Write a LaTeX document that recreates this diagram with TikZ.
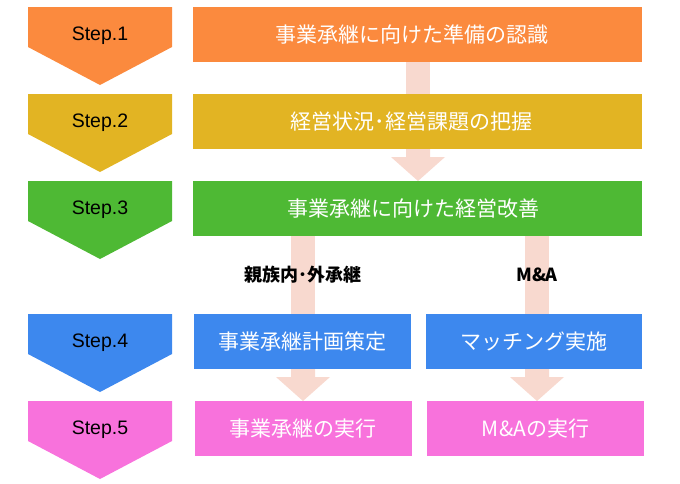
\documentclass[tikz,border=0pt]{standalone}
\usepackage{fontspec}
\setmainfont{Liberation Sans}
\newfontfamily\jp{Noto Sans CJK JP}
\usetikzlibrary{calc}
\definecolor{corange}{HTML}{FB8A3E}
\definecolor{cyellow}{HTML}{E2B423}
\definecolor{cgreen}{HTML}{4EB934}
\definecolor{cblue}{HTML}{3D88EE}
\definecolor{cpink}{HTML}{F872DC}
\definecolor{carrow}{HTML}{F8D9CF}
\tikzset{
  box/.style={rectangle, inner sep=0pt, minimum height=55pt},
  boxtext/.style={inner sep=0pt, text=white, font=\jp\fontsize{21}{23}\selectfont},
  stepnum/.style={inner sep=0pt, text=black, font=\fontsize{19.5}{21}\selectfont},
  lbl/.style={inner sep=0pt, text=black, font=\jp\bfseries\fontsize{18}{20}\selectfont},
  blockarrow/.style={fill=carrow}
}
\newcommand{\chevron}[2]{% #1 colour, #2 top y
  \fill[#1] (28,#2) -- (172,#2) -- (172,#2+40) -- (100,#2+78) -- (28,#2+40) -- cycle;}
\begin{document}
\begin{tikzpicture}[x=1pt,y=-1pt]
\useasboundingbox (0,0) rectangle (680,483);
% arrows (behind boxes)
\coordinate (a1s) at (418,62);
\coordinate (a1e) at (418,94);
\fill[blockarrow] ($(a1s)+(-12,0)$) rectangle ($(a1e)+(12,0)$);
\coordinate (a2s) at (418,149);
\coordinate (a2e) at (418,181);
\fill[blockarrow] ($(a2s)+(-12,0)$) -- ($(a2s)+(12,0)$) -- ($(a2e)+(12,-24)$) -- ($(a2e)+(27,-24)$)
  -- (a2e) -- ($(a2e)+(-27,-24)$) -- ($(a2e)+(-12,-24)$) -- cycle;
\coordinate (a3ls) at (303,236);
\coordinate (a3le) at (303,314);
\coordinate (a3rs) at (537,236);
\coordinate (a3re) at (537,314);
\fill[blockarrow] ($(a3ls)+(-12,0)$) rectangle ($(a3le)+(12,0)$);
\fill[blockarrow] ($(a3rs)+(-12,0)$) rectangle ($(a3re)+(12,0)$);
\coordinate (a4ls) at (303,369);
\coordinate (a4le) at (303,401);
\coordinate (a4rs) at (537,369);
\coordinate (a4re) at (537,401);
\foreach \s/\e in {a4ls/a4le,a4rs/a4re}{
  \fill[blockarrow] ($(\s)+(-12,0)$) -- ($(\s)+(12,0)$) -- ($(\e)+(12,-24)$) -- ($(\e)+(27,-24)$)
  -- (\e) -- ($(\e)+(-27,-24)$) -- ($(\e)+(-12,-24)$) -- cycle;
}
% chevrons
\chevron{corange}{7}
\chevron{cyellow}{94}
\chevron{cgreen}{181}
\chevron{cblue}{314}
\chevron{cpink}{401}
\node[stepnum] (s1) at (100,36) {Step.1};
\node[stepnum] (s2) at (100,123) {Step.2};
\node[stepnum] (s3) at (100,210) {Step.3};
\node[stepnum] (s4) at (100,343) {Step.4};
\node[stepnum] (s5) at (100,430) {Step.5};
% boxes
\node[box, fill=corange, minimum width=449pt] (b1) at (417.5,34.5) {};
\node[box, fill=cyellow, minimum width=449pt] (b2) at (417.5,121.5) {};
\node[box, fill=cgreen, minimum width=449pt] (b3) at (417.5,208.5) {};
\node[box, fill=cblue, minimum width=217pt] (b4l) at (302,341.5) {};
\node[box, fill=cblue, minimum width=216pt] (b4r) at (534,341.5) {};
\node[box, fill=cpink, minimum width=217pt] (b5l) at (303,428.5) {};
\node[box, fill=cpink, minimum width=217pt] (b5r) at (535.5,428.5) {};
\node[boxtext] (t1) at ($(b1)+(-6,0)$) {事業承継に向けた準備の認識};
\node[boxtext] (t2) at ($(b2)+(-6,0)$) {経営状況･経営課題の把握};
\node[boxtext] (t3) at ($(b3)+(-4,0)$) {事業承継に向けた経営改善};
\node[boxtext] (t4l) at (b4l) {事業承継計画策定};
\node[boxtext] (t4r) at (b4r) {マッチング実施};
\node[boxtext] (t5l) at (b5l) {事業承継の実行};
\node[boxtext] (t5r) at (b5r) {M\&Aの実行};
% labels
\node[lbl] (l1) at (303,275) {親族内･外承継};
\node[lbl] (l2) at (537,275) {M\&A};
\end{tikzpicture}
\end{document}
